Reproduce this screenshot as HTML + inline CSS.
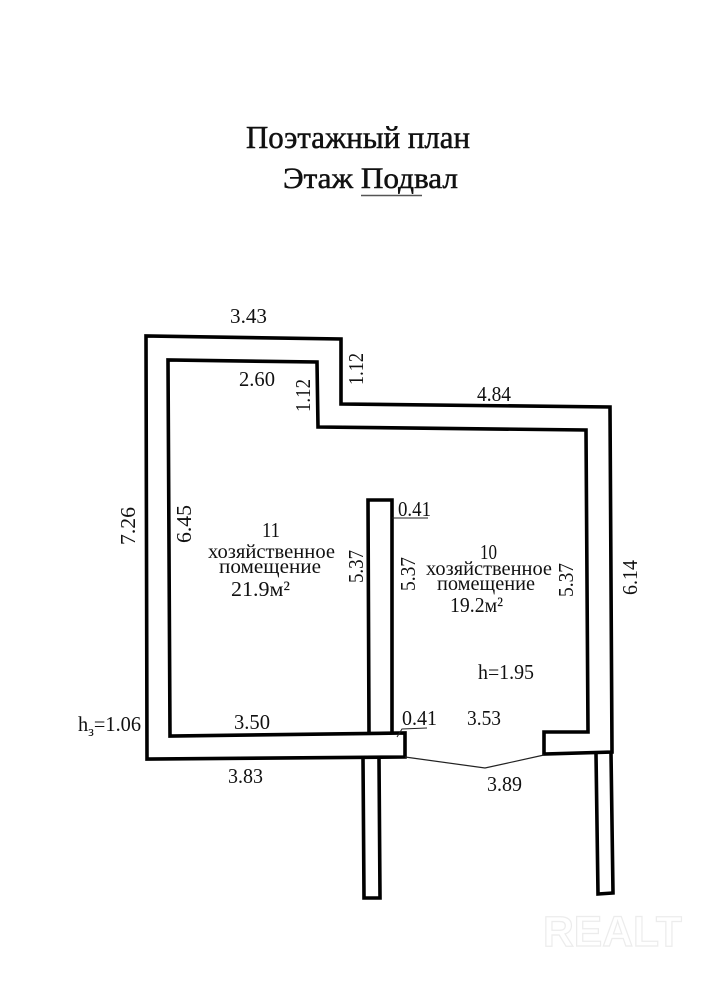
<!DOCTYPE html>
<html lang="ru">
<head>
<meta charset="utf-8">
<title>Поэтажный план</title>
<style>
html,body{margin:0;padding:0;background:#fff;width:719px;height:984px;overflow:hidden}
svg{display:block}
text{font-family:"Liberation Serif","Noto Serif CJK SC",serif;fill:#111}
.d{font-size:21px}
.r{font-size:20px}
.n{font-size:21px}
.t{stroke:#111;stroke-width:.5px}
.w{fill:none;stroke:#000;stroke-width:3.6;stroke-linejoin:miter}
</style>
</head>
<body>
<svg xmlns="http://www.w3.org/2000/svg" width="719" height="984" viewBox="0 0 719 984">
<rect width="719" height="984" fill="#fff"/>

<text class="t" x="246" y="148" font-size="32" textLength="224" lengthAdjust="spacingAndGlyphs">Поэтажный план</text>
<text class="t" x="283" y="188" font-size="30" textLength="175" lengthAdjust="spacingAndGlyphs">Этаж Подвал</text>
<line x1="361" y1="195.500" x2="422" y2="195.500" stroke="#555" stroke-width="1.500"/>

<path class="w" d="M405,757 L147,759 L146,336 L341,339 L341,404 L610,407 L612,752 L544,754 L544,732 L588,732 L586,430 L318,427 L317,362 L168,360 L170,736 L405,733 Z"/>
<path class="w" d="M369,734 L368,500 L392,500 L392,733"/>
<path class="w" d="M363,758 L364,898 L380,898 L379,758"/>
<path class="w" d="M596,754 L598,894 L613,893 L611,753"/>
<polyline points="405,757 485,768 544,755" fill="none" stroke="#222" stroke-width="1.200"/>

<line x1="392" y1="518" x2="428" y2="518" stroke="#222" stroke-width="1"/>
<polyline points="397,737 402,729 427,728" fill="none" stroke="#222" stroke-width="1"/>

<text class="d" x="230" y="323" textLength="37" lengthAdjust="spacingAndGlyphs">3.43</text>
<text class="d" x="239" y="386" textLength="36" lengthAdjust="spacingAndGlyphs">2.60</text>
<text class="d" x="477" y="401" textLength="34" lengthAdjust="spacingAndGlyphs">4.84</text>
<text class="d" x="398" y="516" textLength="33" lengthAdjust="spacingAndGlyphs">0.41</text>
<text class="d" x="402" y="725" textLength="35" lengthAdjust="spacingAndGlyphs">0.41</text>
<text class="d" x="467" y="725" textLength="34" lengthAdjust="spacingAndGlyphs">3.53</text>
<text class="d" x="234" y="729" textLength="36" lengthAdjust="spacingAndGlyphs">3.50</text>
<text class="d" x="228" y="783" textLength="35" lengthAdjust="spacingAndGlyphs">3.83</text>
<text class="d" x="487" y="791" textLength="35" lengthAdjust="spacingAndGlyphs">3.89</text>
<text class="d" x="478" y="679" textLength="56" lengthAdjust="spacingAndGlyphs">h=1.95</text>
<text class="d" x="78" y="731" textLength="63" lengthAdjust="spacingAndGlyphs">h<tspan font-size="15" dy="5">з</tspan><tspan dy="-5">=1.06</tspan></text>

<text class="d" transform="translate(363,385) rotate(-90)" textLength="32" lengthAdjust="spacingAndGlyphs">1.12</text>
<text class="d" transform="translate(310,412) rotate(-90)" textLength="33" lengthAdjust="spacingAndGlyphs">1.12</text>
<text class="d" transform="translate(135,545) rotate(-90)" textLength="38" lengthAdjust="spacingAndGlyphs">7.26</text>
<text class="d" transform="translate(191,543) rotate(-90)" textLength="38" lengthAdjust="spacingAndGlyphs">6.45</text>
<text class="d" transform="translate(363,583) rotate(-90)" textLength="33" lengthAdjust="spacingAndGlyphs">5.37</text>
<text class="d" transform="translate(415,591) rotate(-90)" textLength="34" lengthAdjust="spacingAndGlyphs">5.37</text>
<text class="d" transform="translate(573,597) rotate(-90)" textLength="34" lengthAdjust="spacingAndGlyphs">5.37</text>
<text class="d" transform="translate(637,595) rotate(-90)" textLength="35" lengthAdjust="spacingAndGlyphs">6.14</text>

<text class="n" x="262" y="537" textLength="18" lengthAdjust="spacingAndGlyphs">11</text>
<text class="r" x="208" y="558" textLength="127" lengthAdjust="spacingAndGlyphs">хозяйственное</text>
<text class="r" x="219" y="573" textLength="102" lengthAdjust="spacingAndGlyphs">помещение</text>
<text class="n" x="231" y="596" textLength="59" lengthAdjust="spacingAndGlyphs">21.9м²</text>

<text class="n" x="480" y="559" textLength="17" lengthAdjust="spacingAndGlyphs">10</text>
<text class="r" x="426" y="575" textLength="126" lengthAdjust="spacingAndGlyphs">хозяйственное</text>
<text class="r" x="437" y="590" textLength="98" lengthAdjust="spacingAndGlyphs">помещение</text>
<text class="n" x="450" y="612" textLength="53" lengthAdjust="spacingAndGlyphs">19.2м²</text>

<text x="543" y="946" font-size="43" textLength="139" lengthAdjust="spacingAndGlyphs" style="font-family:'Liberation Sans',sans-serif;font-weight:bold;fill:#fff;stroke:#ececec;stroke-width:1.200">REALT</text>
</svg>
</body>
</html>
